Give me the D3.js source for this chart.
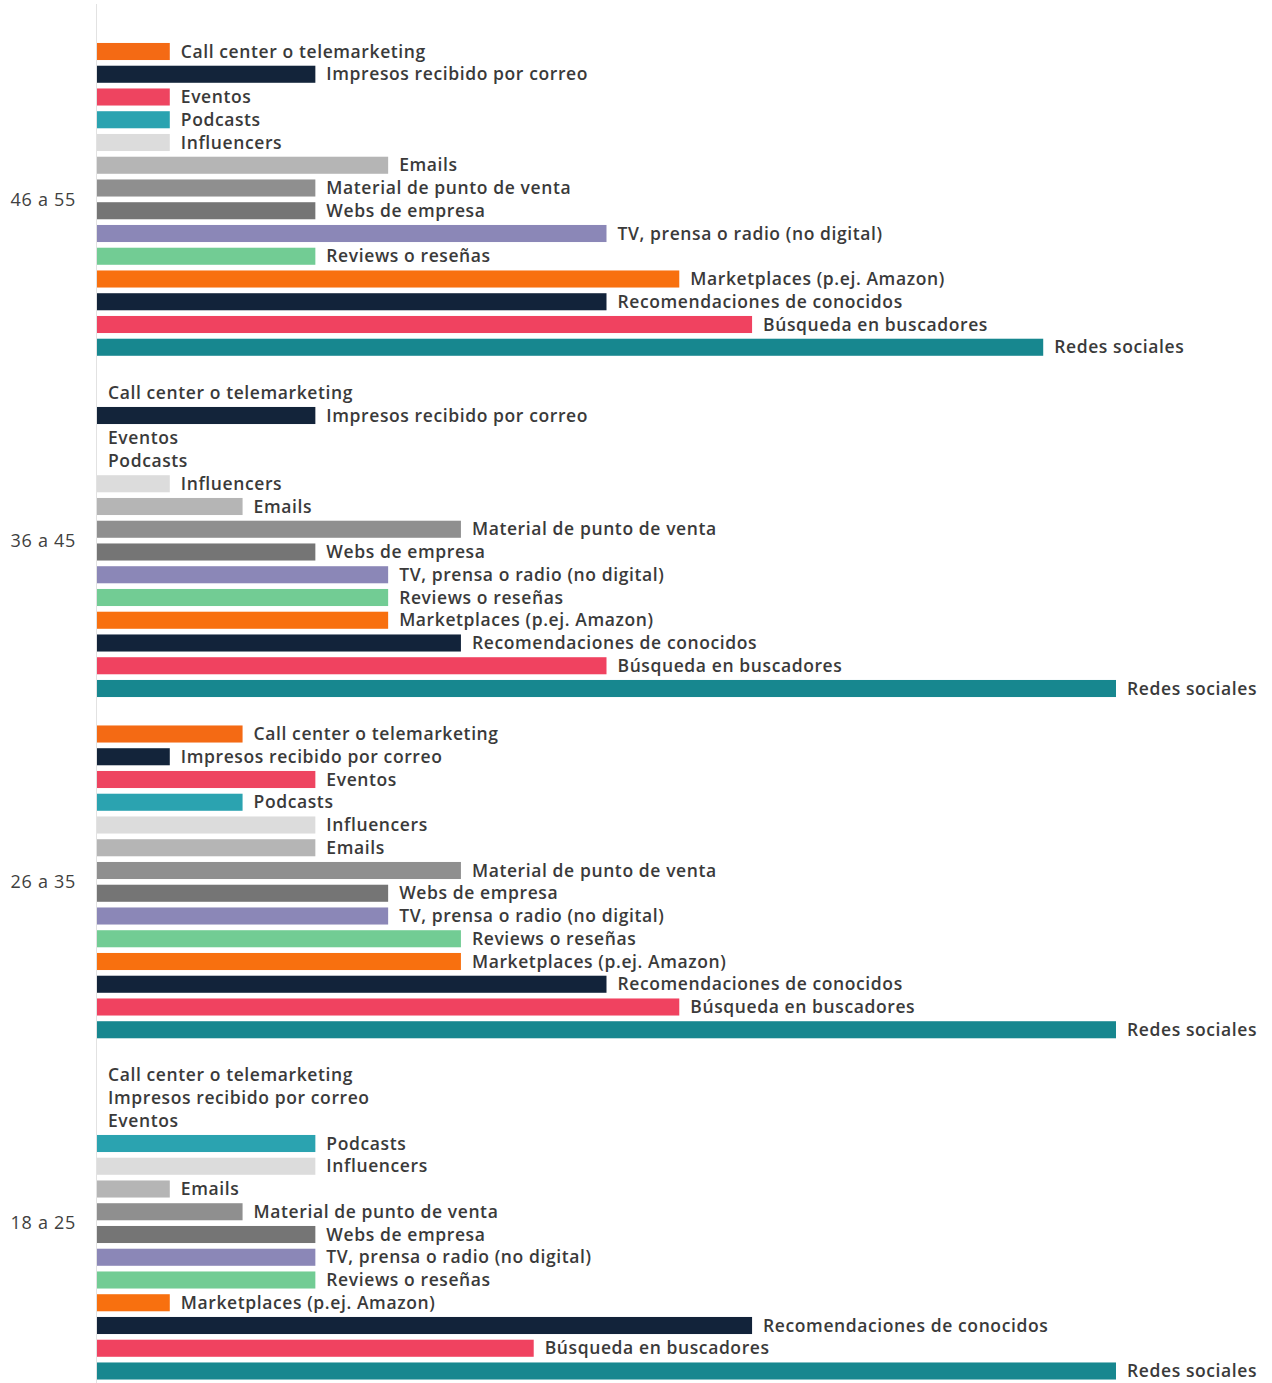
<!DOCTYPE html>
<html>
<head>
<meta charset="utf-8">
<script src="https://cdn.jsdelivr.net/npm/d3@7"></script>
<style>
  html, body { margin: 0; padding: 0; background: #ffffff; }
  svg { display: block; }
</style>
</head>
<body>
<div id="chart"></div>
<script>
// Age groups, top to bottom
const groups = ["46 a 55", "36 a 45", "26 a 35", "18 a 25"];

// Channels, top to bottom inside each group
const channels = [
  "Call center o telemarketing",
  "Impresos recibido por correo",
  "Eventos",
  "Podcasts",
  "Influencers",
  "Emails",
  "Material de punto de venta",
  "Webs de empresa",
  "TV, prensa o radio (no digital)",
  "Reviews o reseñas",
  "Marketplaces (p.ej. Amazon)",
  "Recomendaciones de conocidos",
  "Búsqueda en buscadores",
  "Redes sociales"
];

// Values per group, same order as channels
const values46a55 = [1, 3, 1, 1, 1, 4, 3, 3, 7, 3, 8, 7, 9, 13];
const values36a45 = [0, 3, 0, 0, 1, 2, 5, 3, 4, 4, 4, 5, 7, 14];
const values26a35 = [2, 1, 3, 2, 3, 3, 5, 4, 4, 5, 5, 7, 8, 14];
const values18a25 = [0, 0, 0, 3, 3, 1, 2, 3, 3, 3, 1, 9, 6, 14];

const channelColors = [
  "#f46a14", "#13243a", "#ee4460", "#2ba3b0", "#dcdcdc", "#b5b5b5", "#8f8f8f",
  "#757575", "#8b87b7", "#72cc94", "#f8700f", "#12233a", "#f04260", "#17878f"
];

const seriesByGroup = [values46a55, values36a45, values26a35, values18a25];

const W = 1272, H = 1383;
const svg = d3.select("#chart").append("svg")
  .attr("width", W).attr("height", H);

const slot = 22.75;
const y0 = 51.5 - slot / 2;

// Outer scale places each age block; inner scale places the channel rows in a block
const yGroup = d3.scaleBand()
  .domain(groups)
  .range([y0, y0 + slot * 15 * (4 - 1 / 15)])
  .paddingInner(1 / 15)
  .paddingOuter(0);

const yChan = d3.scaleBand()
  .domain(channels)
  .range([0, yGroup.bandwidth()])
  .paddingInner(0.25)
  .paddingOuter(0.125);

const x = d3.scaleLinear().domain([0, 14]).range([97, 1116]);

// vertical category axis line
svg.append("line")
  .attr("x1", x(0) - 0.5).attr("x2", x(0) - 0.5)
  .attr("y1", 4).attr("y2", H)
  .attr("stroke", "#e2e2e2").attr("stroke-width", 1);

const rows = [];
groups.forEach((g, gi) => {
  channels.forEach((c, ci) => {
    rows.push({ group: g, channel: c, value: seriesByGroup[gi][ci], color: channelColors[ci] });
  });
});

const blocks = svg.selectAll("g.block")
  .data(groups)
  .join("g")
  .attr("class", "block")
  .attr("transform", d => `translate(0,${yGroup(d)})`);

blocks.append("text")
  .attr("x", 76)
  .attr("y", yGroup.bandwidth() / 2)
  .attr("dy", "0.35em")
  .attr("text-anchor", "end")
  .attr("font-family", "'Open Sans', sans-serif")
  .attr("font-size", 18)
  .attr("letter-spacing", 0.7)
  .attr("fill", "#404040")
  .text(d => d);

blocks.each(function (g) {
  const sel = d3.select(this);
  const data = rows.filter(r => r.group === g);

  sel.selectAll("rect")
    .data(data)
    .join("rect")
    .attr("x", x(0))
    .attr("y", d => yChan(d.channel))
    .attr("width", d => x(d.value) - x(0))
    .attr("height", yChan.bandwidth())
    .attr("fill", d => d.color);

  sel.selectAll("text.lbl")
    .data(data)
    .join("text")
    .attr("class", "lbl")
    .attr("x", d => x(d.value) + 11)
    .attr("y", d => yChan(d.channel) + yChan.bandwidth() / 2)
    .attr("dy", "0.35em")
    .attr("font-family", "'Open Sans', sans-serif")
    .attr("font-weight", 600)
    .attr("font-size", 17.5)
    .attr("letter-spacing", 0.6)
    .attr("fill", "#3a3a3a")
    .text(d => d.channel);
});
</script>
</body>
</html>
